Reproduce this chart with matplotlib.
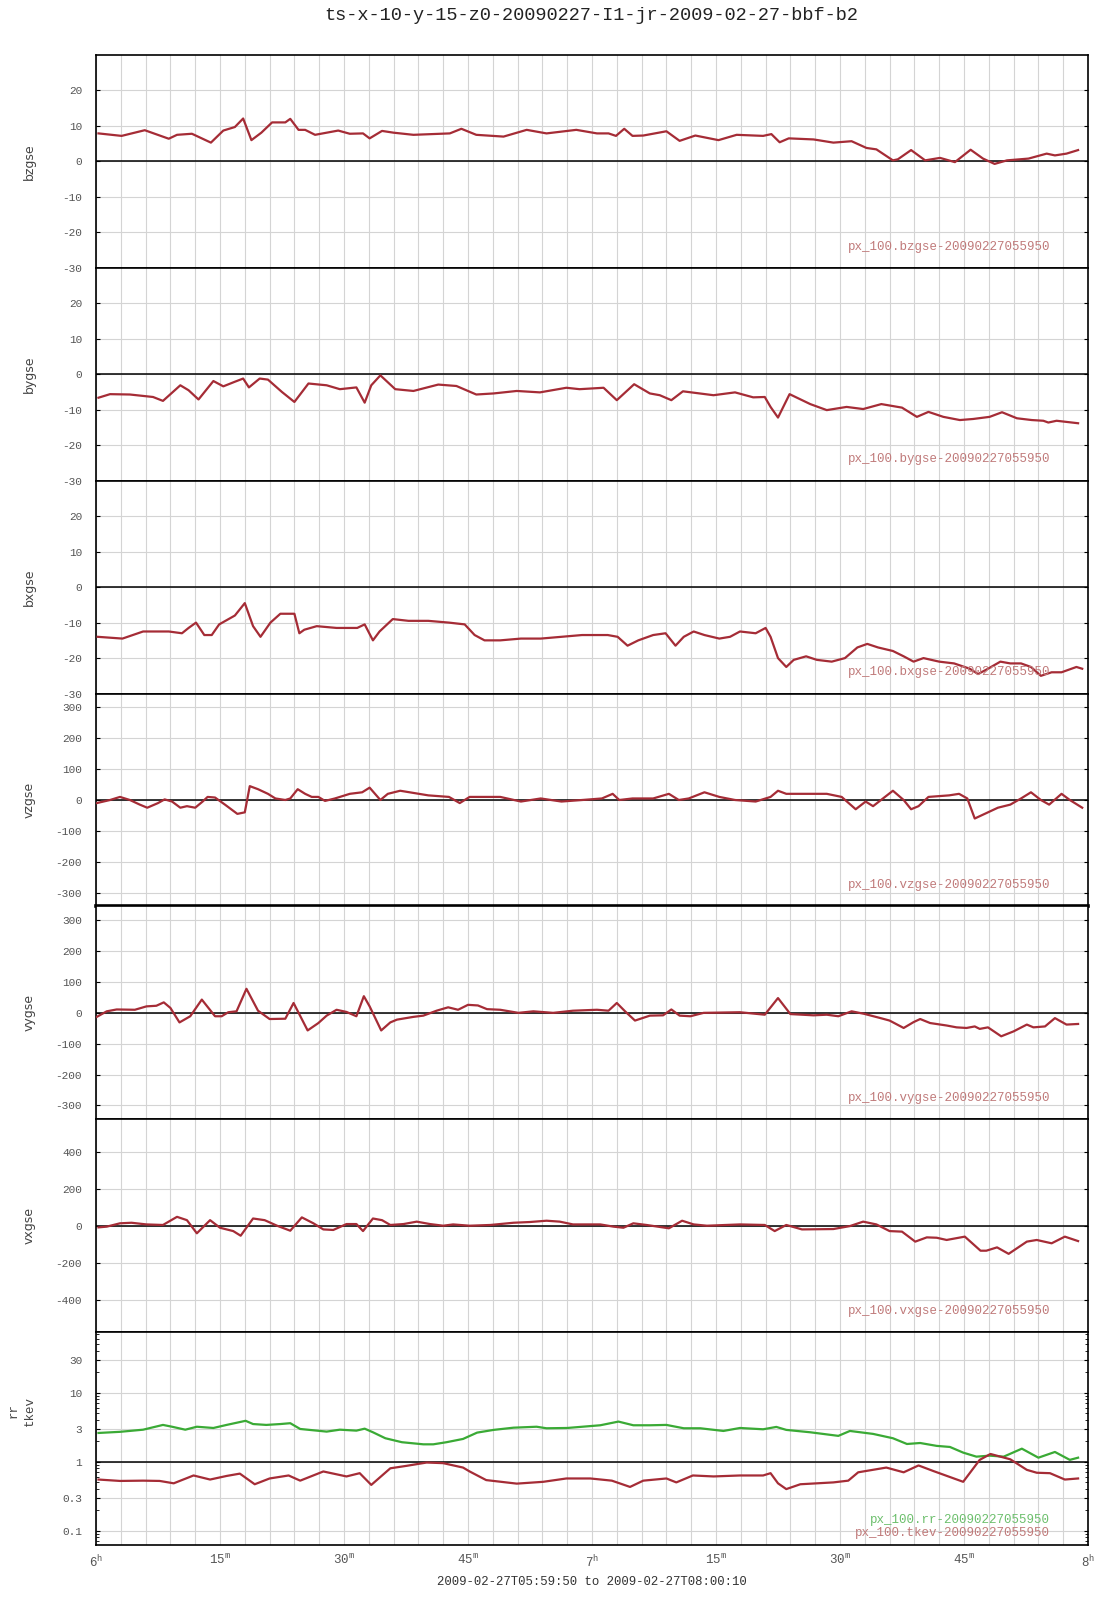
import numpy as np
import matplotlib
matplotlib.use("Agg")
import matplotlib.pyplot as plt
from matplotlib.ticker import FixedLocator, FuncFormatter, LogLocator, NullFormatter

plt.rcParams['font.family'] = ['Liberation Mono', 'DejaVu Sans Mono']
plt.rcParams['axes.unicode_minus'] = False
plt.rcParams['mathtext.default'] = 'regular'

# time in minutes after 06:00
t_bz = [0.3, 3.1, 5.9, 8.8, 9.8, 11.6, 13.9, 15.4, 16.8, 17.8, 18.8, 20.0, 21.3, 22.9, 23.5, 24.5, 25.3,
        26.5, 29.3, 30.7, 32.3, 33.1, 34.6, 36.0, 38.4, 42.8, 44.2, 46.0, 49.3, 52.1, 54.5, 58.1, 60.6,
        62.0, 62.9, 63.9, 64.9, 66.2, 69.0, 70.6, 72.5, 75.3, 77.5, 80.7, 81.7, 82.7, 83.8, 86.8, 89.2,
        91.4, 93.2, 94.4, 96.4, 97.0, 98.6, 100.3, 102.1, 103.9, 105.8, 107.3, 108.7, 110.2, 112.8,
        115.0, 116.0, 117.4, 118.8]
bzgse = [7.9, 7.2, 8.8, 6.4, 7.5, 7.8, 5.3, 8.7, 9.7, 12.1, 6.0, 8.1, 11.0, 11.0, 12.0, 8.9, 8.9,
         7.5, 8.7, 7.8, 7.9, 6.5, 8.6, 8.1, 7.5, 7.9, 9.2, 7.5, 7.0, 8.9, 7.9, 8.9, 7.9,
         7.9, 7.2, 9.2, 7.2, 7.3, 8.5, 5.8, 7.3, 6.0, 7.5, 7.2, 7.7, 5.4, 6.5, 6.2, 5.3,
         5.7, 3.8, 3.4, 0.3, 0.6, 3.2, 0.3, 1.0, -0.2, 3.3, 0.8, -0.7, 0.3, 0.8,
         2.2, 1.7, 2.2, 3.2]

t_by = [0.3, 1.7, 4.1, 6.9, 8.1, 10.2, 11.2, 12.4, 14.2, 15.4, 16.8, 17.8, 18.5, 19.8, 20.8, 22.5,
        24.0, 25.7, 27.9, 29.5, 31.5, 32.5, 33.3, 34.4, 36.2, 38.4, 41.4, 43.6, 46.0, 48.1, 50.9,
        53.7, 56.9, 58.5, 61.4, 63.0, 65.1, 67.0, 68.2, 69.6, 71.0, 74.7, 77.3, 79.5, 80.9, 81.6,
        82.5, 83.9, 86.4, 88.4, 90.8, 92.8, 95.0, 97.5, 99.3, 100.7, 102.5, 104.5, 106.1, 108.1,
        109.6, 111.4, 113.2, 114.6, 115.2, 116.2, 118.8]
bygse = [-6.6, -5.6, -5.7, -6.4, -7.5, -3.1, -4.5, -7.1, -1.9, -3.4, -2.1, -1.2, -3.7, -1.2, -1.5, -5.0,
         -7.8, -2.6, -3.1, -4.2, -3.7, -8.0, -3.1, -0.3, -4.2, -4.7, -2.9, -3.3, -5.7, -5.4, -4.7,
         -5.1, -3.8, -4.2, -3.8, -7.3, -2.8, -5.4, -5.9, -7.3, -4.8, -5.9, -5.1, -6.5, -6.4, -9.2,
         -12.2, -5.6, -8.4, -10.1, -9.2, -9.8, -8.4, -9.4, -12.0, -10.6, -12.0, -12.9, -12.6, -12.0,
         -10.7, -12.4, -12.9, -13.1, -13.6, -13.1, -13.8]

t_bx = [0.2, 3.2, 5.7, 8.8, 10.4, 11.2, 12.1, 13.1, 14.0, 14.9, 16.8, 18.0, 19.0, 19.9, 21.1, 22.3,
        24.0, 24.6, 25.2, 26.7, 29.1, 31.6, 32.5, 33.5, 34.3, 35.9, 37.8, 40.2, 42.7, 44.6, 45.8,
        47.0, 48.9, 51.4, 53.8, 56.3, 58.8, 61.9, 63.1, 64.3, 65.6, 67.4, 68.9, 70.1, 71.1, 72.3,
        73.6, 75.4, 76.7, 77.9, 79.8, 81.0, 81.6, 82.5, 83.5, 84.4, 85.9, 87.2, 89.0, 90.6, 92.1,
        93.3, 94.6, 96.4, 97.7, 98.9, 100.1, 102.0, 103.8, 105.7, 106.7, 107.9, 109.4, 110.6, 111.9,
        113.1, 114.3, 115.6, 116.8, 118.6, 119.3]
bxgse = [-14, -14.5, -12.5, -12.5, -13, -11.5, -10, -13.5, -13.5, -10.5, -8, -4.5, -11, -14, -10, -7.5,
         -7.5, -13, -12, -11, -11.5, -11.5, -10.5, -15, -12.5, -9, -9.5, -9.5, -10, -10.5, -13.5,
         -15, -15, -14.5, -14.5, -14, -13.5, -13.5, -14, -16.5, -15, -13.5, -13, -16.5, -14, -12.5,
         -13.5, -14.5, -14, -12.5, -13, -11.5, -14, -20, -22.5, -20.5, -19.5, -20.5, -21, -20, -17,
         -16, -17, -18, -19.5, -21, -20, -21, -21.5, -23, -24.5, -23, -21, -21.5, -21.5,
         -22.5, -25, -24, -24, -22.5, -23]

t_vz = [0.1, 1.7, 2.9, 4.1, 5.3, 6.2, 7.5, 8.3, 9.2, 10.2, 11.0, 12.0, 12.9, 13.5, 14.4, 15.6, 17.1,
        18.0, 18.6, 19.6, 20.8, 21.7, 22.9, 23.5, 24.4, 25.3, 26.1, 26.9, 27.7, 28.9, 30.7, 32.2,
        33.1, 34.4, 35.3, 36.8, 40.2, 42.7, 44.0, 45.2, 47.0, 48.9, 51.4, 53.8, 56.3, 58.8, 61.2,
        62.5, 63.3, 64.9, 67.4, 69.3, 70.5, 71.7, 73.6, 75.4, 77.3, 79.8, 81.6, 82.5, 83.5, 85.9,
        88.4, 90.2, 91.9, 93.1, 94.0, 95.2, 96.4, 97.7, 98.6, 99.5, 100.7, 103.2, 104.4, 105.4,
        106.3, 107.5, 109.1, 110.6, 111.9, 113.1, 114.3, 115.3, 116.8, 117.8, 119.3]
vzgse = [-10, 0, 10, 0, -15, -25, -10, 2, -5, -25, -20, -25, -5, 10, 8, -15, -45,
         -40, 45, 35, 20, 5, 0, 5, 35, 20, 10, 10, -3, 5, 20, 25,
         40, 0, 20, 30, 15, 10, -10, 10, 10, 10, -5, 5, -5, 0, 5,
         20, 0, 5, 5, 20, 0, 5, 25, 10, 0, -5, 10, 30, 20, 20,
         20, 10, -30, -5, -20, 5, 30, 0, -30, -20, 10, 15, 20, 5,
         -60, -45, -25, -15, 5, 25, 0, -15, 20, 0, -25]

t_vy = [0.1, 1.3, 2.5, 4.7, 6.1, 7.3, 8.2, 9.0, 10.1, 11.4, 12.8, 14.4, 15.2, 16.0, 17.0, 18.2, 19.6,
        21.0, 22.9, 23.9, 25.6, 26.9, 27.9, 29.1, 30.3, 31.5, 32.4, 33.1, 34.5, 35.6, 36.4, 38.4,
        39.6, 41.2, 42.6, 43.8, 45.0, 46.2, 47.3, 48.9, 51.1, 52.9, 55.3, 57.7, 60.6, 62.0, 63.0,
        64.0, 65.2, 67.0, 68.6, 69.6, 70.6, 71.9, 73.5, 77.9, 80.9, 82.5, 84.0, 86.8, 88.4, 89.8,
        91.4, 92.9, 94.9, 96.0, 97.7, 98.9, 99.7, 100.9, 102.9, 104.1, 105.3, 106.3, 106.9, 107.9,
        109.5, 111.0, 112.6, 113.4, 114.8, 116.0, 117.4, 118.8]
vygse = [-13, 5, 11, 10, 21, 23, 34, 16, -31, -11, 43, -11, -11, 2, 5, 78, 7,
         -20, -19, 32, -57, -33, -9, 10, 3, -11, 54, 21, -57, -31, -22, -13,
         -9, 7, 18, 10, 26, 24, 12, 10, 0, 5, 0, 7, 10, 7, 32,
         5, -25, -9, -8, 11, -9, -11, 0, 2, -6, 48, -4, -8, -6, -11,
         5, -3, -17, -25, -49, -30, -20, -33, -41, -47, -49, -44, -52, -47,
         -76, -60, -38, -47, -44, -17, -38, -36]

t_vx = [0.3, 1.3, 2.9, 4.3, 6.1, 8.1, 9.8, 11.0, 12.2, 13.8, 15.0, 16.6, 17.5, 19.0, 20.4, 21.9, 23.5,
        24.9, 26.3, 27.5, 28.7, 30.3, 31.5, 32.3, 33.5, 34.6, 35.6, 37.2, 38.8, 40.4, 42.0, 43.2,
        45.2, 47.7, 50.5, 52.5, 54.5, 56.1, 57.7, 61.0, 62.6, 63.8, 65.0, 66.6, 69.3, 70.9, 72.3,
        73.9, 77.9, 80.9, 82.1, 83.5, 85.4, 89.2, 91.2, 92.8, 94.4, 96.0, 97.5, 99.1, 100.5, 101.7,
        102.9, 105.1, 107.0, 107.7, 109.0, 110.4, 112.6, 113.8, 115.6, 117.2, 118.8]
vxgse = [-9, -5, 13, 16, 7, 4, 48, 30, -41, 30, -11, -29, -54, 39, 30, 0, -27,
         45, 13, -20, -23, 9, 9, -29, 39, 30, 4, 9, 22, 9, 0, 7,
         0, 4, 16, 20, 27, 22, 7, 7, -5, -11, 13, 4, -14, 27, 7,
         0, 7, 4, -29, 4, -20, -18, -2, 22, 7, -29, -32, -86, -63, -65,
         -77, -59, -135, -135, -117, -152, -86, -77, -95, -59, -83]

t_rr = [0.3, 2.9, 5.7, 8.1, 9.2, 10.8, 12.2, 14.2, 15.8, 18.1, 19.0, 20.6, 22.3, 23.5, 24.7, 27.9,
        29.5, 31.5, 32.5, 33.5, 35.0, 37.0, 39.6, 40.8, 42.4, 44.4, 46.1, 48.1, 50.5, 53.3, 54.5,
        57.0, 61.0, 63.2, 65.0, 67.0, 69.0, 71.1, 73.1, 75.9, 77.9, 80.7, 82.3, 83.5, 86.4, 89.8,
        91.2, 94.0, 96.4, 98.1, 99.7, 101.7, 103.3, 104.9, 106.5, 108.1, 109.8, 112.0, 114.0, 116.0,
        117.8, 118.8]
rr = [2.6, 2.7, 2.9, 3.4, 3.2, 2.9, 3.2, 3.07, 3.4, 3.9, 3.5, 3.4, 3.5, 3.6, 2.97, 2.72,
      2.9, 2.81, 3.0, 2.66, 2.18, 1.91, 1.78, 1.78, 1.91, 2.13, 2.63, 2.88, 3.1, 3.2, 3.04,
      3.07, 3.36, 3.8, 3.36, 3.36, 3.4, 3.04, 3.04, 2.78, 3.07, 2.94, 3.18, 2.88, 2.66, 2.36,
      2.78, 2.52, 2.18, 1.80, 1.86, 1.69, 1.63, 1.35, 1.18, 1.22, 1.18, 1.54, 1.14, 1.38,
      1.06, 1.14]

t_tk = [0.3, 2.9, 5.7, 7.7, 9.4, 11.8, 13.8, 15.8, 17.4, 19.2, 21.0, 23.3, 24.7, 27.5, 30.3, 31.9,
        33.3, 35.6, 37.6, 40.0, 42.0, 44.4, 45.2, 47.2, 50.9, 54.1, 56.9, 59.8, 62.4, 64.6, 66.2,
        69.0, 70.2, 72.2, 74.7, 77.9, 80.7, 81.6, 82.5, 83.5, 85.2, 89.2, 91.0, 92.2, 95.6, 97.7,
        99.5, 101.3, 104.9, 106.9, 108.2, 110.6, 112.6, 113.8, 115.4, 117.2, 118.8]
tkev = [0.55, 0.525, 0.53, 0.525, 0.485, 0.63, 0.55, 0.62, 0.67, 0.47, 0.57, 0.63, 0.53, 0.72, 0.61, 0.68,
        0.46, 0.80, 0.87, 0.97, 0.95, 0.82, 0.72, 0.54, 0.48, 0.51, 0.57, 0.57, 0.53, 0.43, 0.53,
        0.57, 0.50, 0.63, 0.61, 0.63, 0.63, 0.68, 0.485, 0.40, 0.47, 0.50, 0.53, 0.70, 0.82, 0.70,
        0.88, 0.73, 0.51, 1.06, 1.29, 1.08, 0.76, 0.69, 0.68, 0.55, 0.57]

x_tick_labels = ['6^h', '15^m', '30^m', '45^m', '7^h', '15^m', '30^m', '45^m', '8^h']
edge_ticks = [9, 12, 24, 36, 39, 48, 51, 60, 63, 72, 75, 84, 87, 99, 111, 114]
stamp = '-20090227055950'

RED = '#a52c36'
GREEN = '#3aaa35'
GRID = '#d4d4d4'
TICKC = '#555555'

panels = [
    ('bzgse', t_bz, bzgse, (-30, 30), [-30, -20, -10, 0, 10, 20]),
    ('bygse', t_by, bygse, (-30, 30), [-30, -20, -10, 0, 10, 20]),
    ('bxgse', t_bx, bxgse, (-30, 30), [-30, -20, -10, 0, 10, 20]),
    ('vzgse', t_vz, vzgse, (-345, 345), [-300, -200, -100, 0, 100, 200, 300]),
    ('vygse', t_vy, vygse, (-345, 345), [-300, -200, -100, 0, 100, 200, 300]),
    ('vxgse', t_vx, vxgse, (-575, 575), [-400, -200, 0, 200, 400]),
]

fig, axes = plt.subplots(7, 1, figsize=(11.07, 16), dpi=100, sharex=True)
fig.subplots_adjust(left=96/1107, right=1088/1107, top=1-55/1600, bottom=1-1545/1600, hspace=0)


def style_axis(ax):
    ax.set_xlim(0, 120)
    ax.xaxis.set_major_locator(FixedLocator(np.arange(0, 121, 3)))
    ax.xaxis.set_minor_locator(FixedLocator(edge_ticks))
    ax.grid(True, which='major', color=GRID, lw=0.8)
    ax.set_axisbelow(True)
    ax.tick_params(axis='x', which='major', length=0, labelbottom=False)
    ax.tick_params(axis='x', which='minor', direction='in', length=5, width=1,
                   top=False, bottom=False)
    ax.tick_params(axis='y', which='major', direction='in', length=3, left=True, right=True,
                   labelsize=8, labelcolor=TICKC, pad=10)
    for s in ax.spines.values():
        s.set_color('black')
        s.set_linewidth(1.2)


def side_label(ax, text, x_px, y_px=None, **kw):
    # label at a fixed pixel column, centred on the panel unless y is given
    box = ax.get_position()
    y = (box.y0 + box.y1) / 2 if y_px is None else 1 - y_px / 1600
    fig.text(x_px / 1107, y, text, rotation=90,
             ha='center', va='center', color='#444444', **kw)


for i, (name, t, v, lim, ticks) in enumerate(panels):
    ax = axes[i]
    style_axis(ax)
    ax.axhline(0, color='black', lw=1.1, zorder=2)
    ax.plot(t, v, color=RED, lw=1.6, zorder=3, solid_joinstyle='round')
    ax.set_ylim(*lim)
    ax.set_yticks(ticks)
    ax.set_yticklabels([str(k) for k in ticks])
    side_label(ax, name, 29, family='DejaVu Sans', fontsize=9)
    ax.text(0.962, 0.10, 'px_100.' + name + stamp, transform=ax.transAxes,
            ha='right', va='center', fontsize=9, color='#c07a7a')

axes[0].tick_params(axis='x', which='minor', top=True)
axes[3].spines['bottom'].set_linewidth(2.6)

# temperature / rr panel on log scale
ax = axes[6]
style_axis(ax)
ax.set_yscale('log')
ax.set_ylim(0.062, 75)
ax.axhline(1, color='black', lw=1.1, zorder=2)
ax.plot(t_rr, rr, color=GREEN, lw=1.6, zorder=3, solid_joinstyle='round')
ax.plot(t_tk, tkev, color=RED, lw=1.6, zorder=3, solid_joinstyle='round')
ax.set_yticks([0.1, 0.3, 1, 3, 10, 30])
ax.set_yticklabels(['0.1', '0.3', '1', '3', '10', '30'])
ax.yaxis.set_minor_locator(LogLocator(base=10, subs=np.arange(2, 10)))
ax.yaxis.set_minor_formatter(NullFormatter())
ax.tick_params(axis='y', which='minor', direction='in', length=2, left=True, right=True)
side_label(ax, 'rr\ntkev', 22, 1411, fontsize=9, linespacing=1.5, multialignment='center')
ax.text(0.962, 0.117, 'px_100.rr' + stamp, transform=ax.transAxes,
        ha='right', va='center', fontsize=9, color='#6cbf6c')
ax.text(0.962, 0.056, 'px_100.tkev' + stamp, transform=ax.transAxes,
        ha='right', va='center', fontsize=9, color='#c07a7a')
ax.tick_params(axis='x', which='minor', bottom=True)
ax.tick_params(axis='x', which='major', labelbottom=True, labelsize=9,
               labelcolor=TICKC, pad=6)
ax.xaxis.set_major_formatter(FuncFormatter(
    lambda x, pos: '$' + x_tick_labels[int(round(x)) // 15] + '$' if int(round(x)) % 15 == 0 else ''))

fig.text(591/1107, 1 - 16/1600, 'ts-x-10-y-15-z0-20090227-I1-jr-2009-02-27-bbf-b2',
         ha='center', va='center', fontsize=13.4, color='#222222')
fig.text(592/1107, 1 - 1582/1600, '2009-02-27T05:59:50 to 2009-02-27T08:00:10',
         ha='center', va='center', fontsize=8.9, color='#333333')

fig.savefig('out.png', dpi=100)
